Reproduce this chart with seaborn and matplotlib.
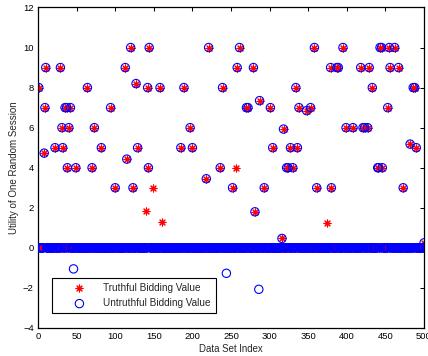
import numpy as np
import pandas as pd
import matplotlib
matplotlib.use("Agg")
import matplotlib.pyplot as plt
import seaborn as sns

# ---- data ----
n_sets = 500
# indices (1..500) where at least one series is non-zero
nz_index = [1, 8, 9, 10, 22, 29, 31, 32, 35, 37, 38, 40, 42, 46, 49, 64, 70, 73, 82, 94,
            100, 113, 115, 120, 123, 127, 129, 140, 142, 143, 144, 149, 158, 160,
            185, 189, 197, 200, 218, 221, 236, 239, 244, 252, 257, 258, 261, 270, 272,
            279, 281, 286, 287, 293, 301, 304, 316, 318, 322, 324, 327, 330, 334, 336,
            338, 348, 353, 358, 361, 374, 379, 380, 387, 389, 395, 399, 408, 418, 421,
            423, 427, 429, 433, 440, 441, 443, 445, 446, 453, 455, 456, 462, 467, 473,
            482, 486, 488, 490, 500]
truthful_nz = [8, 4.73, 7, 9, 5, 9, 6, 5, 7, 7, 4, 6, 7, 0, 4, 8, 4, 6, 5, 7,
               3, 9, 4.43, 10, 3, 8.2, 5, 1.85, 8, 4, 10, 3, 8, 1.27,
               5, 8, 6, 5, 3.45, 10, 4, 8, 0, 3, 4, 9, 10, 7, 7,
               9, 1.8, 0, 7.35, 3, 7, 5, 0.47, 5.93, 4, 4, 5, 4, 8, 5,
               7, 6.85, 7, 10, 3, 1.23, 9, 3, 9, 9, 10, 6, 6, 9, 6,
               6, 6, 9, 8, 4, 4, 10, 10, 4, 7, 10, 9, 10, 9, 3,
               5.18, 8, 8, 5, 0.25]
untruthful_nz = [8, 4.73, 7, 9, 5, 9, 6, 5, 7, 7, 4, 6, 7, -1.05, 4, 8, 4, 6, 5, 7,
                 3, 9, 4.43, 10, 3, 8.2, 5, 0, 8, 4, 10, 0, 8, 0,
                 5, 8, 6, 5, 3.45, 10, 4, 8, -1.27, 3, 0, 9, 10, 7, 7,
                 9, 1.8, -2.07, 7.35, 3, 7, 5, 0.47, 5.93, 4, 4, 5, 4, 8, 5,
                 7, 6.85, 7, 10, 3, 0, 9, 3, 9, 9, 10, 6, 6, 9, 6,
                 6, 6, 9, 8, 4, 4, 10, 10, 4, 7, 10, 9, 10, 9, 3,
                 5.18, 8, 8, 5, 0.25]
series_names = ["Truthful Bidding Value", "Untruthful Bidding Value"]
x_label = "Data Set Index"
y_label = "Utility of One Random Session"

# all other data sets have utility 0 (the solid band at y = 0)
index = np.arange(1, n_sets + 1)
truthful = pd.Series(0.0, index=index)
untruthful = pd.Series(0.0, index=index)
truthful.loc[nz_index] = truthful_nz
untruthful.loc[nz_index] = untruthful_nz
df_t = pd.DataFrame({"idx": index, "val": truthful.values})
df_u = pd.DataFrame({"idx": index, "val": untruthful.values})

# ---- style ----
sns.set_style("white")
plt.rcParams["font.family"] = ["Liberation Sans", "DejaVu Sans"]

fig = plt.figure(figsize=(4.28, 3.56), dpi=100)
ax = fig.add_axes([0.0888, 0.0787, 0.9019, 0.9003])

sns.scatterplot(data=df_t, x="idx", y="val", ax=ax, marker=(8, 2, 0), s=25,
                color="#ff0000", edgecolor="#ff0000", linewidth=0.8,
                label=series_names[0], zorder=2)
sns.scatterplot(data=df_u, x="idx", y="val", ax=ax, marker="o", s=36,
                facecolor="none", edgecolor="#0000ff", linewidth=0.8,
                label=series_names[1], zorder=3)

ax.set_xlim(0, 500)
ax.set_ylim(-4, 12)
ax.set_xticks(np.arange(0, 501, 50))
ax.set_yticks(np.arange(-4, 13, 2))
ax.tick_params(direction="in", top=True, right=True, length=3, width=0.75,
               labelsize=6.8, pad=3, colors="black")
for sp in ax.spines.values():
    sp.set_visible(True)
    sp.set_color("black")
    sp.set_linewidth(0.9)
ax.set_xlabel(x_label, fontsize=6.9, labelpad=2)
ax.set_ylabel(y_label, fontsize=7.0, labelpad=3)

leg = ax.legend(loc="lower left", bbox_to_anchor=(0.036, 0.046), borderaxespad=0,
                fancybox=False, edgecolor="black", framealpha=1, fontsize=7.2,
                scatterpoints=1, handlelength=4.5, handletextpad=0.15,
                borderpad=0.5, labelspacing=0.55)
leg.get_frame().set_linewidth(0.8)

fig.savefig("out.png", dpi=100)
